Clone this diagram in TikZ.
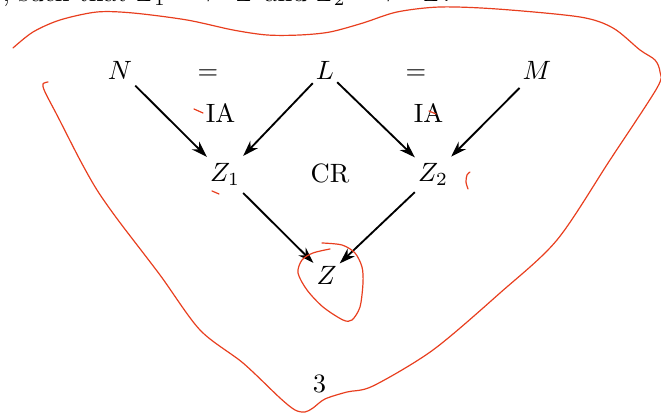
\documentclass[tikz,border=0pt]{standalone}
\usepackage{amsmath, amssymb}
\usetikzlibrary{arrows.meta}
\definecolor{inkred}{RGB}{232,62,30}

\begin{document}
\begin{tikzpicture}[x=0.01326cm, y=-0.01326cm,
  term/.style={anchor=base, inner xsep=1pt},
  reduct/.style={-{Stealth[length=6pt,width=4pt]}, line width=0.7pt},
  ink/.style={inkred, line width=0.45pt, line cap=round}]
  \useasboundingbox (0,0) rectangle (661,415);
  % cut-off line of the text above
  \node[anchor=base west, inner sep=0pt] (topline) at (2,1.5) {, such that $Z_1 \mathrel{\longrightarrow^{*}} Z$ and $Z_2 \mathrel{\longrightarrow^{*}}\; Z$.};
  % terms
  \node[term] (N) at (120,79.5) {$N$};
  \node[anchor=base] (eqA) at (208,79.5) {$=$};
  \node[term] (L) at (325,79.5) {$L$};
  \node[anchor=base] (eqB) at (416,79.5) {$=$};
  \node[term] (M) at (537,79.5) {$M$};
  \node[anchor=base] (iaA) at (220.5,122.7) {IA};
  \node[anchor=base] (iaB) at (428.5,122.7) {IA};
  \node[term] (Za) at (225,182) {$Z_1$};
  \node[anchor=base] (cr) at (330,182.5) {CR};
  \node[term] (Zb) at (433,182) {$Z_2$};
  \node[term] (Z) at (326.5,285) {$Z$};
  \node[anchor=base] (three) at (319.5,392.7) {3};
  % reductions
  \draw[reduct] (N) -- (Za);
  \draw[reduct] (L) -- (Za);
  \draw[reduct] (L) -- (Zb);
  \draw[reduct] (M) -- (Zb);
  \draw[reduct] (Za) -- (Z);
  \draw[reduct] (Zb) -- (Z);
  % red pen marks
  \draw[ink] plot[smooth] coordinates {(13,48) (33,32) (60,20) (97,12) (133,13) (187,20) (233,30) (267,35) (300,35) (330,32) (363,23) (397,12) (440,7) (497,9) (580,17) (613,28) (640,50) (655,60) (660,72) (657,88) (610,160) (557,240) (500,293) (433,350) (373,386) (347,392) (325,399) (313,408) (305,412) (295,410) (280,398) (243,363) (200,330) (160,275) (118,220) (97,190) (80,160) (58,117) (45,92) (43,84) (48,82)};
  \draw[ink] (194,109) -- (203,113);
  \draw[ink] (212,191) -- (219,194);
  \draw[ink] (429,111) -- (436,114);
  \draw[ink] plot[smooth] coordinates {(470,172) (467,175) (466,182) (468,189)};
  \draw[ink] plot[smooth] coordinates {(322,243) (342,245) (355,253) (362,267) (363,283) (360,307) (352,320) (343,320) (323,307) (307,290) (298,273) (302,260) (313,253) (330,249)};
\end{tikzpicture}
\end{document}
